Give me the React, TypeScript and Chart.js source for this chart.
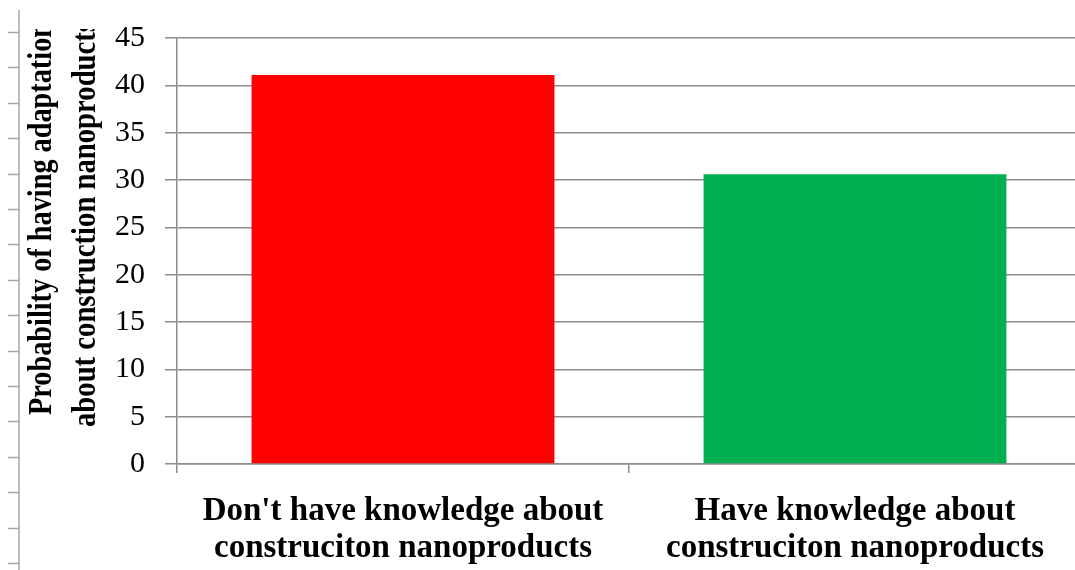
import React, { useEffect, useRef } from "react";
import { Chart, registerables } from "chart.js";

Chart.register(...registerables);

const categories: string[][] = [
  ["Don't have knowledge about", "construciton nanoproducts"],
  ["Have knowledge about", "construciton nanoproducts"],
];
const values: number[] = [41.1, 30.6];
const barColors: string[] = ["#FF0000", "#00B050"];
const yTitleLines: string[] = ["Probability of having adaptation", "about construction nanoproducts"];
const yMin = 0;
const yMax = 45;
const yStep = 5;

export default function App() {
  const ref = useRef<HTMLCanvasElement>(null);

  useEffect(() => {
    if (!ref.current) return;
    const decoPlugin = {
      id: "deco",
      afterDraw(chart: any) {
        const ctx = chart.ctx as CanvasRenderingContext2D;
        ctx.save();
        // scan ruler artifact on the left edge
        ctx.strokeStyle = "#a6a6a6";
        ctx.lineWidth = 1.5;
        ctx.beginPath();
        ctx.moveTo(19, 10);
        ctx.lineTo(19, 570);
        for (let y = 32; y < 570; y += 35.4) {
          ctx.moveTo(8, Math.round(y) + 0.5);
          ctx.lineTo(19, Math.round(y) + 0.5);
        }
        ctx.stroke();
        ctx.restore();

        // rotated, clipped y-axis title
        ctx.save();
        ctx.beginPath();
        ctx.rect(0, 29, 200, 541);
        ctx.clip();
        ctx.fillStyle = "#000";
        ctx.font = "bold 33px 'Liberation Serif', serif";
        ctx.textBaseline = "middle";
        ctx.textAlign = "left";
        const specs = [
          { x: 42, y: 415, len: 393 },
          { x: 86, y: 427, len: 406 },
        ];
        yTitleLines.forEach((t, i) => {
          const s = specs[i];
          const w = ctx.measureText(t).width;
          ctx.save();
          ctx.translate(s.x, s.y);
          ctx.rotate(-Math.PI / 2);
          ctx.scale(s.len / w, 1);
          ctx.fillText(t, 0, 0);
          ctx.restore();
        });
        ctx.restore();
      },
    };

    const gridColor = "#8c8c8c";
    const chart = new Chart(ref.current, {
      type: "bar",
      data: {
        labels: categories,
        datasets: [
          {
            data: values,
            backgroundColor: barColors,
            borderWidth: 0,
            barPercentage: 0.67,
            categoryPercentage: 1,
          },
        ],
      },
      options: {
        responsive: false,
        animation: false,
        devicePixelRatio: 1,
        layout: { padding: { left: 0, top: 38, right: 4, bottom: 0 } },
        plugins: { legend: { display: false }, tooltip: { enabled: false } },
        scales: {
          y: {
            min: yMin,
            max: yMax,
            afterFit(scale: any) {
              scale.width = 177;
            },
            ticks: {
              stepSize: yStep,
              padding: 20,
              color: "#000",
              font: { family: "'Liberation Serif', serif", size: 30 },
            },
            grid: { color: gridColor, lineWidth: 1.5, tickLength: 12 },
            border: { display: true, color: gridColor, width: 1.5 },
          },
          x: {
            offset: true,
            afterFit(scale: any) {
              scale.height = 106;
            },
            ticks: {
              maxRotation: 0,
              minRotation: 0,
              autoSkip: false,
              padding: 19,
              color: "#000",
              font: { family: "'Liberation Serif', serif", size: 33, weight: "bold", lineHeight: 1.15 },
            },
            grid: { offset: true, drawOnChartArea: false, color: gridColor, lineWidth: 1.5, tickLength: 9 },
            border: { display: true, color: gridColor, width: 1.5 },
          },
        },
      },
      plugins: [decoPlugin],
    });
    return () => chart.destroy();
  }, []);

  return (
    <div style={{ position: "fixed", left: 0, top: 0, width: 1075, height: 570, overflow: "hidden", background: "#fff" }}>
      <canvas ref={ref} width={1085} height={570} style={{ width: 1085, height: 570, display: "block" }} />
    </div>
  );
}
